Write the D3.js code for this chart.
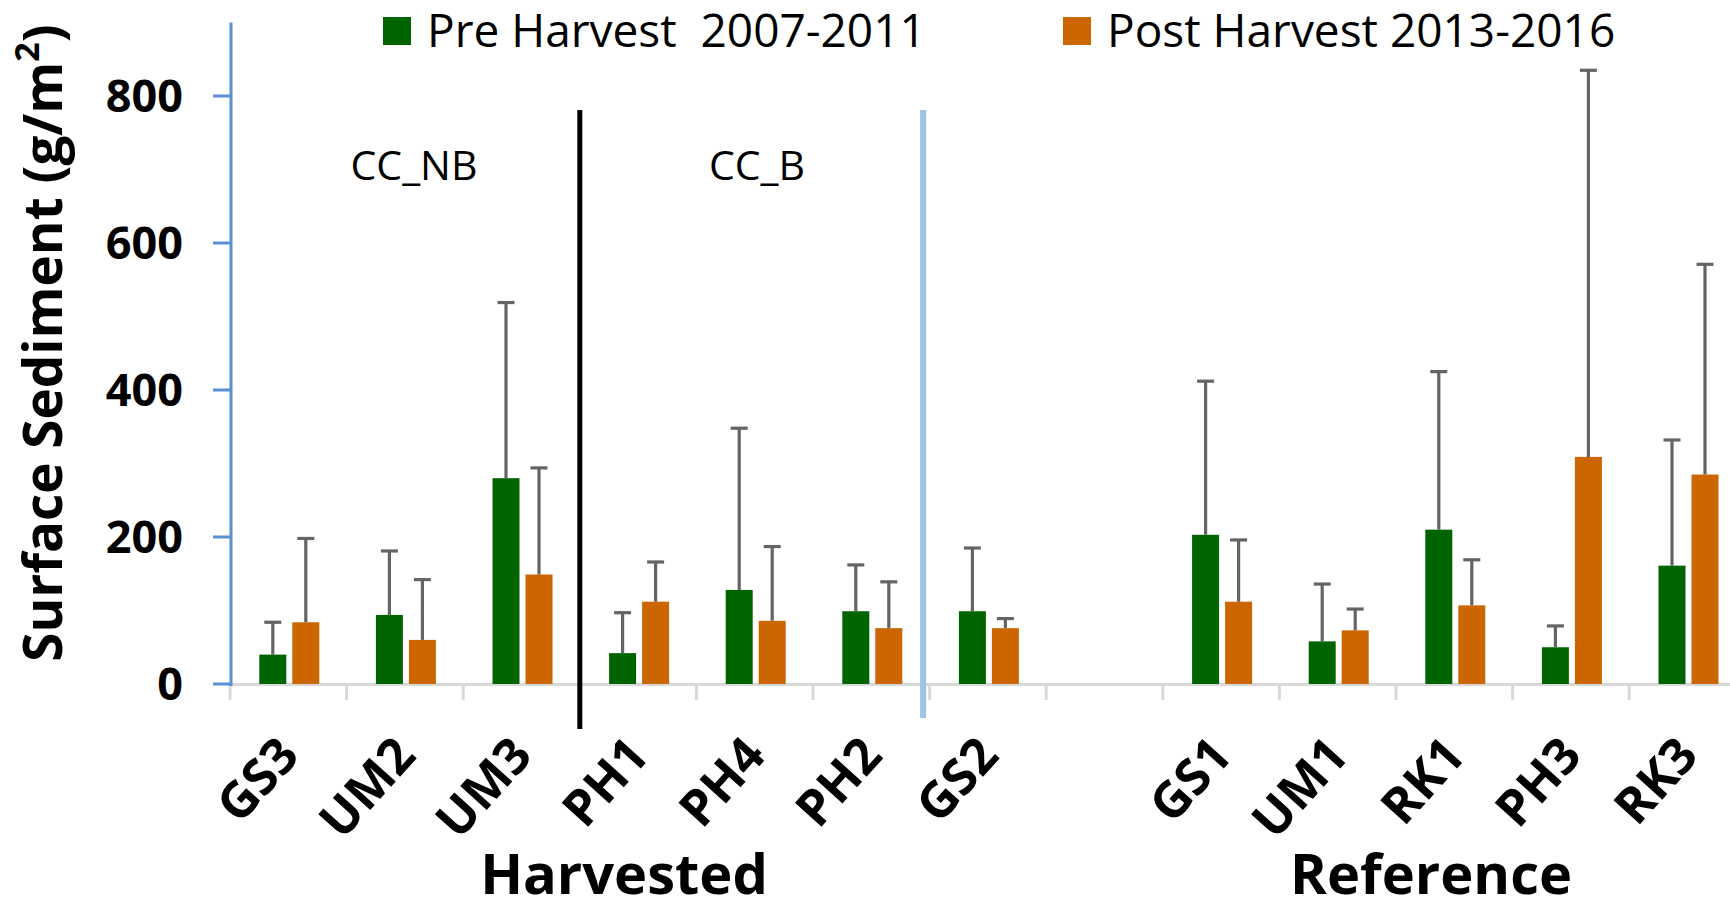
<!DOCTYPE html>
<html>
<head>
<meta charset="utf-8">
<script src="https://cdn.jsdelivr.net/npm/d3@7"></script>
<style>
  body { margin: 0; background: #fff; }
  svg text { font-family: "Open Sans", sans-serif; fill: #000; }
</style>
</head>
<body>
<div id="chart"></div>
<script>
// site order along the x axis (one empty slot between GS2 and GS1)
const sites = ["GS3", "UM2", "UM3", "PH1", "PH4", "PH2", "GS2", "", "GS1", "UM1", "RK1", "PH3", "RK3"];

// mean surface sediment (g/m2) and + error
const preHarvest = [40, 94, 280, 42, 128, 99, 99, null, 203, 58, 210, 50, 161];
const preErr = [44, 87, 239, 55, 220, 63, 86, null, 209, 78, 215, 29, 171];
const postHarvest = [84, 60, 149, 112, 86, 76, 76, null, 112, 73, 107, 309, 285];
const postErr = [114, 82, 145, 54, 101, 63, 13, null, 84, 29, 62, 526, 286];

const yTicks = [0, 200, 400, 600, 800];
const seriesNames = ["Pre Harvest  2007-2011", "Post Harvest 2013-2016"];
const colors = ["#006400", "#cc6600"];

const width = 1730, height = 904;
const svg = d3.select("#chart").append("svg")
    .attr("width", width)
    .attr("height", height);

const x = d3.scaleBand()
    .domain(sites)
    .range([230, 230 + 116.6 * sites.length]);

const bw = x.bandwidth();
const x1 = d3.scaleBand()
    .domain(["pre", "post"])
    .range([bw / 2 - 29, bw / 2 + 31])
    .paddingInner(0.182);

const y = d3.scaleLinear()
    .domain([0, 900])
    .range([684, 22.5]);

// rows for the bars
const rows = [];
sites.forEach((s, i) => {
    if (preHarvest[i] != null) rows.push({ site: s, key: "pre", value: preHarvest[i], err: preErr[i], color: colors[0] });
    if (postHarvest[i] != null) rows.push({ site: s, key: "post", value: postHarvest[i], err: postErr[i], color: colors[1] });
});

// x axis line and ticks (light gray)
svg.append("line")
    .attr("x1", 230).attr("x2", width)
    .attr("y1", y(0) + 0.5).attr("y2", y(0) + 0.5)
    .attr("stroke", "#d9d9d9").attr("stroke-width", 3);

const boundaries = sites.map(s => x(s)).concat([x.range()[1]]);
svg.selectAll(".xtick")
    .data(boundaries)
    .join("line")
    .attr("class", "xtick")
    .attr("x1", d => d).attr("x2", d => d)
    .attr("y1", y(0)).attr("y2", y(0) + 16)
    .attr("stroke", "#d9d9d9").attr("stroke-width", 3);

// bars
svg.selectAll(".bar")
    .data(rows)
    .join("rect")
    .attr("class", "bar")
    .attr("x", d => x(d.site) + x1(d.key))
    .attr("y", d => y(d.value))
    .attr("width", x1.bandwidth())
    .attr("height", d => y(0) - y(d.value))
    .attr("fill", d => d.color);

// error bars (plus only)
const eb = svg.selectAll(".err")
    .data(rows)
    .join("g")
    .attr("class", "err")
    .attr("transform", d => `translate(${x(d.site) + x1(d.key) + x1.bandwidth() / 2},0)`);

eb.append("line")
    .attr("x1", 0).attr("x2", 0)
    .attr("y1", d => y(d.value))
    .attr("y2", d => y(d.value + d.err))
    .attr("stroke", "#646464").attr("stroke-width", 3.2);

eb.append("line")
    .attr("x1", -8.5).attr("x2", 8.5)
    .attr("y1", d => y(d.value + d.err))
    .attr("y2", d => y(d.value + d.err))
    .attr("stroke", "#646464").attr("stroke-width", 3.2);

// y axis (blue)
svg.append("line")
    .attr("x1", 231).attr("x2", 231)
    .attr("y1", y(900)).attr("y2", y(0) + 2)
    .attr("stroke", "#5b8fd6").attr("stroke-width", 3);

svg.selectAll(".ytick")
    .data(yTicks)
    .join("line")
    .attr("class", "ytick")
    .attr("x1", 213).attr("x2", 231)
    .attr("y1", d => y(d)).attr("y2", d => y(d))
    .attr("stroke", "#5b8fd6").attr("stroke-width", 3);

svg.selectAll(".ylabel")
    .data(yTicks)
    .join("text")
    .attr("class", "ylabel")
    .attr("x", 183)
    .attr("y", d => y(d))
    .attr("dy", "0.36em")
    .attr("text-anchor", "end")
    .attr("font-size", 45)
    .attr("font-weight", "bold")
    .text(d => d);

// y axis title
const yt = svg.append("text")
    .attr("transform", "translate(62,343) rotate(-90)")
    .attr("text-anchor", "middle")
    .attr("font-size", 53)
    .attr("font-weight", "bold");
yt.append("tspan").text("Surface Sediment (g/m");
yt.append("tspan").attr("baseline-shift", "super").attr("font-size", 34).text("2");
yt.append("tspan").text(")");

// site labels rotated
svg.selectAll(".xlabel")
    .data(sites.filter(s => s !== ""))
    .join("text")
    .attr("class", "xlabel")
    .attr("transform", d => `translate(${x(d) + bw / 2 + 13},757) rotate(-48)`)
    .attr("text-anchor", "end")
    .attr("font-size", 50)
    .attr("font-weight", "bold")
    .text(d => d);

// separators
svg.append("line")
    .attr("x1", x("PH1")).attr("x2", x("PH1"))
    .attr("y1", 110).attr("y2", 729)
    .attr("stroke", "#000").attr("stroke-width", 5);

svg.append("line")
    .attr("x1", x("GS2") - 6.5).attr("x2", x("GS2") - 6.5)
    .attr("y1", 110).attr("y2", 718)
    .attr("stroke", "#9dc3e6").attr("stroke-width", 6);

// group annotations
svg.append("text").attr("x", 414).attr("y", 180)
    .attr("text-anchor", "middle").attr("font-size", 41).text("CC_NB");
svg.append("text").attr("x", 757).attr("y", 180)
    .attr("text-anchor", "middle").attr("font-size", 41).text("CC_B");

svg.append("text").attr("x", 624).attr("y", 894)
    .attr("text-anchor", "middle").attr("font-size", 56).attr("font-weight", "bold").text("Harvested");
svg.append("text").attr("x", 1431).attr("y", 894)
    .attr("text-anchor", "middle").attr("font-size", 56).attr("font-weight", "bold").text("Reference");

// legend
const legendX = [383, 1063];
const lg = svg.selectAll(".legend")
    .data(seriesNames)
    .join("g")
    .attr("class", "legend")
    .attr("transform", (d, i) => `translate(${legendX[i]},17)`);
lg.append("rect")
    .attr("width", 28).attr("height", 28)
    .attr("fill", (d, i) => colors[i]);
lg.append("text")
    .attr("x", 44).attr("y", 30)
    .attr("font-size", 46)
    .style("white-space", "pre")
    .text(d => d);
</script>
</body>
</html>
